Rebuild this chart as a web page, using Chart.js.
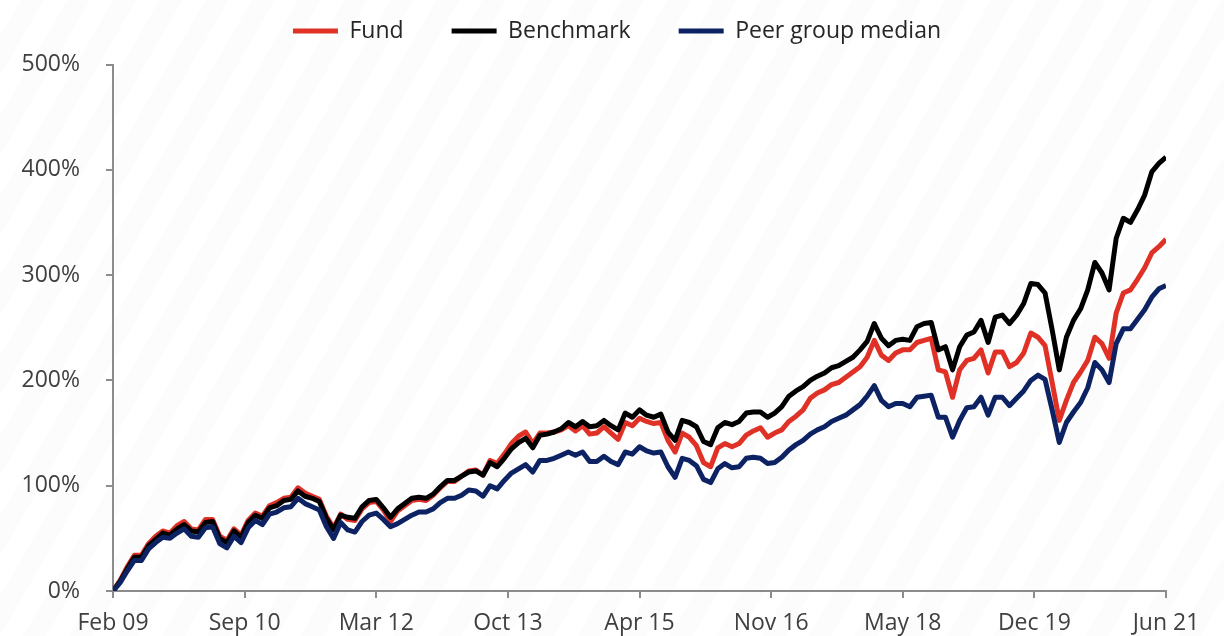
<!DOCTYPE html>
<html>
<head>
<meta charset="utf-8">
<title>Fund vs Benchmark</title>
<script src="https://cdn.jsdelivr.net/npm/chart.js@4.4.1/dist/chart.umd.min.js"></script>
<style>
    html, body { margin: 0; padding: 0; background: #ffffff; }
    #wrap {
        width: 1224px;
        height: 636px;
        position: relative;
        background: repeating-linear-gradient(-60deg, #ffffff 0 20px, #fcfcfc 20px 40px);
    }
</style>
</head>
<body>
<div id="wrap"><canvas id="perfChart"></canvas></div>
<script>
// cumulative return, % — monthly from Feb 09 (index 0) to Jun 21 (index 148)
const tickLabels = ['Feb 09', 'Sep 10', 'Mar 12', 'Oct 13', 'Apr 15', 'Nov 16', 'May 18', 'Dec 19', 'Jun 21'];
const monthsPerTick = 18.5;

const fund = [
    0, 10, 23, 34, 34, 45, 52, 57, 55, 62, 66, 59, 58, 68, 68, 52, 48, 59, 53, 67,
    74, 71, 81, 84, 88, 89, 98, 93, 90, 87, 71, 60, 73, 68, 67, 78, 84, 85, 77, 66,
    76, 81, 86, 87, 86, 91, 98, 104, 104, 109, 114, 115, 110, 124, 121, 130, 140, 147, 151, 140,
    150, 150, 151, 153, 157, 152, 157, 149, 150, 156, 150, 144, 160, 157, 164, 161, 159, 160, 143, 132,
    150, 146, 138, 122, 118, 136, 140, 137, 140, 148, 152, 155, 146, 150, 153, 161, 166, 172, 183, 188,
    191, 196, 198, 203, 208, 213, 222, 238, 224, 219, 226, 229, 229, 236, 238, 240, 210, 208, 184, 210,
    219, 221, 229, 207, 227, 227, 213, 217, 226, 245, 241, 233, 198, 162, 181, 198, 208, 219, 241, 235,
    221, 264, 283, 286, 296, 307, 321, 327, 334
];

const benchmark = [
    0, 9, 21, 32, 32, 43, 49, 55, 53, 59, 63, 57, 56, 65, 66, 50, 46, 57, 51, 65,
    72, 69, 79, 81, 86, 87, 95, 90, 88, 85, 69, 58, 72, 70, 69, 80, 86, 87, 79, 70,
    78, 83, 88, 89, 88, 92, 99, 105, 105, 109, 113, 114, 110, 122, 118, 126, 135, 141, 145, 136,
    148, 149, 151, 154, 160, 156, 161, 156, 157, 162, 157, 153, 169, 165, 172, 167, 165, 168, 151, 143,
    162, 160, 156, 142, 139, 155, 160, 158, 161, 169, 170, 170, 165, 169, 175, 185, 190, 194, 200, 204,
    207, 212, 214, 218, 222, 229, 237, 254, 240, 233, 238, 239, 238, 251, 254, 255, 229, 232, 210, 232,
    243, 246, 257, 236, 260, 262, 254, 262, 273, 292, 291, 283, 248, 210, 241, 257, 268, 286, 312, 302,
    286, 335, 354, 350, 362, 376, 398, 406, 412
];

const peerMedian = [
    0, 8, 19, 29, 29, 40, 46, 51, 50, 55, 59, 52, 51, 60, 61, 45, 41, 52, 46, 60,
    67, 63, 73, 75, 79, 80, 88, 83, 80, 77, 61, 50, 65, 58, 56, 66, 72, 74, 68, 61,
    64, 68, 72, 75, 75, 78, 84, 88, 88, 91, 96, 95, 90, 100, 97, 105, 112, 116, 120, 113,
    124, 124, 126, 129, 132, 129, 132, 123, 123, 128, 123, 120, 132, 130, 137, 133, 131, 132, 118, 108,
    126, 124, 119, 106, 103, 116, 121, 117, 118, 126, 127, 126, 121, 122, 127, 134, 139, 143, 149, 153,
    156, 161, 164, 167, 172, 177, 185, 195, 181, 175, 178, 178, 175, 184, 185, 186, 165, 165, 146, 162,
    174, 175, 184, 167, 184, 184, 176, 183, 190, 200, 205, 201, 172, 141, 160, 170, 179, 193, 217, 210,
    198, 235, 249, 249, 258, 267, 279, 287, 290
];

const toPoints = values => values.map((v, i) => ({ x: i, y: v }));

// 图例和图表之间的空隙
const legendGap = {
    id: 'legendGap',
    afterInit(chart) {
        const fit = chart.legend.fit;
        chart.legend.fit = function () {
            fit.call(this);
            this.height += 12;
        };
    }
};

Chart.defaults.font.family = "'Open Sans', sans-serif";
Chart.defaults.font.size = 23;
Chart.defaults.color = '#404040';

const axisGrey = '#8c8c8c';

new Chart(document.getElementById('perfChart'), {
    type: 'line',
    data: {
        datasets: [
            {
                label: 'Fund',
                data: toPoints(fund),
                borderColor: '#e03127',
                backgroundColor: '#e03127',
                order: 3
            },
            {
                label: 'Benchmark',
                data: toPoints(benchmark),
                borderColor: '#000000',
                backgroundColor: '#000000',
                order: 2
            },
            {
                label: 'Peer group median',
                data: toPoints(peerMedian),
                borderColor: '#0c2263',
                backgroundColor: '#0c2263',
                order: 1
            }
        ]
    },
    options: {
        responsive: true,
        maintainAspectRatio: false,
        animation: false,
        layout: {
            padding: { top: -28.5, left: 10, right: 0, bottom: 0 }
        },
        elements: {
            line: { borderWidth: 5, tension: 0, borderJoinStyle: 'round', borderCapStyle: 'butt' },
            point: { radius: 0 }
        },
        scales: {
            x: {
                type: 'linear',
                min: 0,
                max: 148,
                afterFit: scale => { scale.height = 45; },
                border: { display: true, color: axisGrey, width: 2 },
                grid: { drawOnChartArea: false, drawTicks: true, tickLength: 7, color: axisGrey, lineWidth: 2 },
                ticks: {
                    stepSize: monthsPerTick,
                    autoSkip: false,
                    maxRotation: 0,
                    padding: 12,
                    color: '#404040',
                    callback: value => tickLabels[Math.round(value / monthsPerTick)]
                }
            },
            y: {
                min: 0,
                max: 500,
                afterFit: scale => { scale.width = 103; },
                border: { display: true, color: axisGrey, width: 2 },
                grid: { drawOnChartArea: false, drawTicks: true, tickLength: 7, color: axisGrey, lineWidth: 2 },
                ticks: {
                    stepSize: 100,
                    padding: 26,
                    color: '#404040',
                    callback: value => `${value}%`
                }
            },
            // 右侧留白（不显示）
            rightSpace: {
                position: 'right',
                display: true,
                afterFit: scale => { scale.width = 58; },
                border: { display: false },
                grid: { display: false },
                ticks: { display: false }
            }
        },
        plugins: {
            legend: {
                display: true,
                position: 'top',
                labels: {
                    boxWidth: 45,
                    boxHeight: 5,
                    padding: 48,
                    color: '#262626',
                    font: { size: 23 },
                    sort: (a, b) => a.datasetIndex - b.datasetIndex,
                    generateLabels: chart => Chart.defaults.plugins.legend.labels.generateLabels(chart)
                        .map(item => ({ ...item, lineWidth: 0 }))
                }
            },
            tooltip: { enabled: false }
        }
    },
    plugins: [legendGap]
});
</script>
</body>
</html>
